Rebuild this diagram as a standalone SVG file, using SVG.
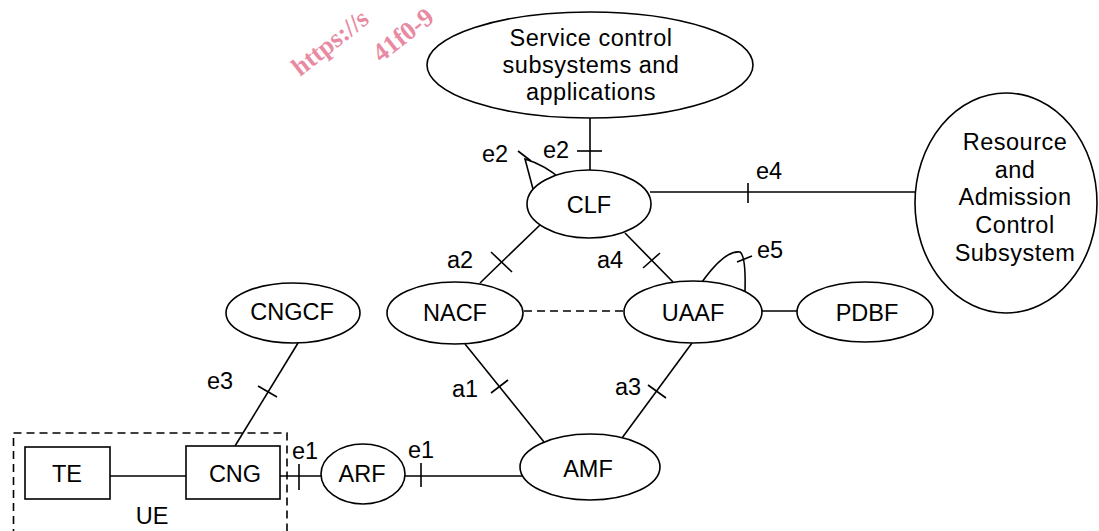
<svg xmlns="http://www.w3.org/2000/svg" width="1099" height="531" viewBox="0 0 1099 531">
<style>
.n{fill:#fff;stroke:#000;stroke-width:1.6}
.c{fill:none;stroke:#000;stroke-width:1.6}
.d{fill:none;stroke:#000;stroke-width:1.6;stroke-dasharray:8 5}
text{font-family:"Liberation Sans",Arial,sans-serif;font-size:23.5px;fill:#000}
.m{text-anchor:middle}
.w{letter-spacing:0.5px}
.wm{font-family:"Liberation Serif","Times New Roman",serif;font-weight:bold;font-size:26px;fill:#e98aa3}
</style>
<rect width="1099" height="531" fill="#fff"/>
<g id="watermark">
<text class="wm" transform="translate(300,77) rotate(-38)">https://s</text>
<text class="wm" transform="translate(381,63) rotate(-38)">41f0-9</text>
</g>
<g id="connectors">
<line class="c" x1="590" y1="118" x2="590" y2="170"/>
<line class="c" x1="577" y1="151" x2="602" y2="151"/>
<text x="543" y="158">e2</text>
<path class="c" d="M533,189 L525,159 Q545,165 562,180"/>
<line class="c" x1="518" y1="151" x2="531" y2="161"/>
<text x="482" y="162">e2</text>
<line class="c" x1="650" y1="192" x2="916" y2="192"/>
<line class="c" x1="748" y1="183" x2="748" y2="203"/>
<text x="756" y="179">e4</text>
<line class="c" x1="540" y1="225" x2="480" y2="283"/>
<line class="c" x1="491" y1="252" x2="512" y2="272"/>
<text x="447" y="268">a2</text>
<line class="c" x1="625" y1="233" x2="673" y2="282"/>
<line class="c" x1="643" y1="268" x2="660" y2="253"/>
<text x="597" y="268">a4</text>
<line class="d" x1="524" y1="311" x2="624" y2="311"/>
<path class="c" d="M702,282 Q725,250 740,252 Q746,256 745,292"/>
<line class="c" x1="737" y1="262" x2="752" y2="256"/>
<text x="757" y="258">e5</text>
<line class="c" x1="762" y1="311" x2="797" y2="311"/>
<line class="c" x1="692" y1="343" x2="622" y2="438"/>
<line class="c" x1="648" y1="385" x2="666" y2="398"/>
<text x="615" y="395">a3</text>
<line class="c" x1="465" y1="344" x2="544" y2="442"/>
<line class="c" x1="491" y1="393" x2="508" y2="380"/>
<text x="452" y="397">a1</text>
<line class="c" x1="405" y1="476" x2="522" y2="476"/>
<line class="c" x1="421" y1="463" x2="421" y2="487"/>
<text x="408" y="458">e1</text>
<line class="c" x1="280" y1="476" x2="321" y2="476"/>
<line class="c" x1="299" y1="464" x2="299" y2="490"/>
<text x="292" y="459">e1</text>
<line class="c" x1="110" y1="476" x2="186" y2="476"/>
<line class="c" x1="235" y1="446" x2="298" y2="343"/>
<line class="c" x1="258" y1="386" x2="277" y2="397"/>
<text x="207" y="389">e3</text>
</g>
<g id="service">
<ellipse class="n" cx="590" cy="65" rx="163" ry="53"/>
<text class="m w" x="591" y="46">Service control</text>
<text class="m w" x="591" y="73">subsystems and</text>
<text class="m w" x="591" y="100">applications</text>
</g>
<g id="clf">
<ellipse class="n" cx="589" cy="204" rx="62" ry="34"/>
<text class="m" x="589" y="213">CLF</text>
</g>
<g id="racs">
<ellipse class="n" cx="1006" cy="203" rx="91" ry="110"/>
<text class="m w" x="1015" y="150">Resource</text>
<text class="m w" x="1015" y="178">and</text>
<text class="m w" x="1015" y="205">Admission</text>
<text class="m w" x="1015" y="233">Control</text>
<text class="m w" x="1015" y="261">Subsystem</text>
</g>
<g id="nacf">
<ellipse class="n" cx="455" cy="313" rx="68" ry="31"/>
<text class="m" x="455" y="321">NACF</text>
</g>
<g id="uaaf">
<ellipse class="n" cx="693" cy="312" rx="69" ry="31"/>
<text class="m" x="693" y="321">UAAF</text>
</g>
<g id="pdbf">
<ellipse class="n" cx="865" cy="312" rx="68" ry="30"/>
<text class="m" x="867" y="321">PDBF</text>
</g>
<g id="cngcf">
<ellipse class="n" cx="293" cy="313" rx="67" ry="30"/>
<text class="m" x="292" y="320">CNGCF</text>
</g>
<g id="amf">
<ellipse class="n" cx="590" cy="467" rx="70" ry="33"/>
<text class="m" x="588" y="477">AMF</text>
</g>
<g id="arf">
<ellipse class="n" cx="363" cy="474" rx="42" ry="30"/>
<text class="m" x="362" y="482">ARF</text>
</g>
<g id="ue">
<rect class="d" x="13.5" y="433" width="273.5" height="110"/>
<text class="m" x="152" y="524">UE</text>
</g>
<g id="te">
<rect class="n" x="25" y="447" width="85" height="52"/>
<text class="m" x="67" y="482">TE</text>
</g>
<g id="cng">
<rect class="n" x="186" y="446" width="94" height="53"/>
<text class="m" x="235" y="482">CNG</text>
</g>
</svg>
